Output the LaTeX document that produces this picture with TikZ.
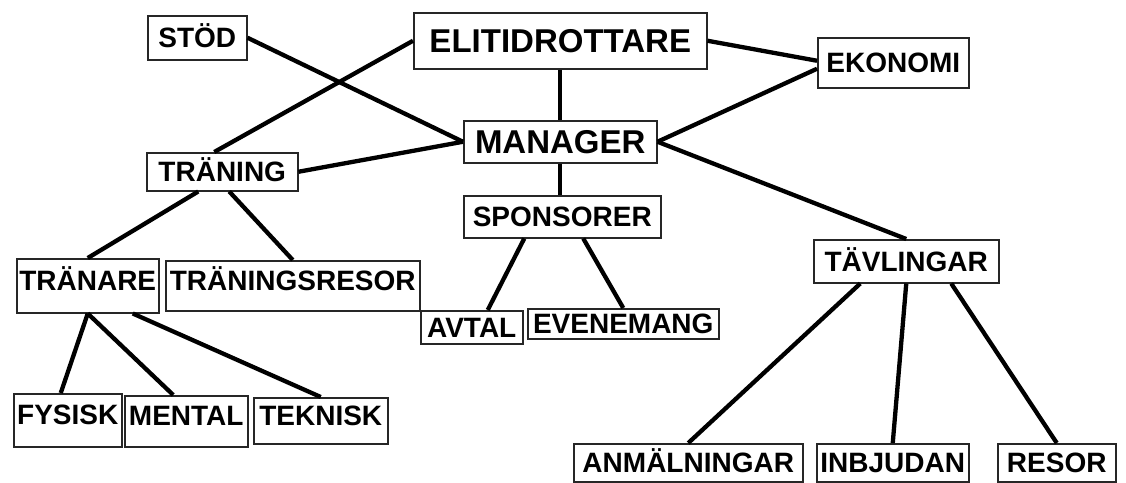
\documentclass[tikz,border=0pt]{standalone}
\usepackage{fontspec}
\setmainfont{Liberation Sans}
\usepackage{tikz}

\begin{document}
\begin{tikzpicture}[x=1pt,y=-1pt,
  item/.style={draw=black!85,line width=1.5pt,anchor=north west,inner sep=0pt,
    font=\fontsize{28}{30}\selectfont\bfseries,text height=20pt,text depth=0pt},
  big/.style={font=\fontsize{33}{36}\selectfont\bfseries,text height=24pt},
  low/.style={text depth=11pt},
  conn/.style={line width=4.3pt}]
\useasboundingbox (0,0) rectangle (1126,482);
% top row
\node[item,minimum width=99pt,minimum height=44pt] (stod) at (147,15) {STÖD};
\node[item,big,minimum width=293pt,minimum height=56pt] (elit) at (413,12) {ELITIDROTTARE};
\node[item,minimum width=151pt,minimum height=50pt] (ekonomi) at (817,37) {EKONOMI};
\node[item,big,minimum width=193pt,minimum height=42pt] (manager) at (463,120) {MANAGER};
% middle
\node[item,minimum width=151pt,minimum height=38pt] (traning) at (146,152) {TRÄNING};
\node[item,minimum width=197pt,minimum height=42pt] (sponsorer) at (463,195) {SPONSORER};
\node[item,minimum width=185pt,minimum height=43pt] (tavlingar) at (813,239) {TÄVLINGAR};
\node[item,low,minimum width=142pt,minimum height=54pt] (tranare) at (16,258) {TRÄNARE};
\node[item,low,minimum width=254pt,minimum height=50pt] (traningsresor) at (165,260) {TRÄNINGSRESOR};
\node[item,minimum width=102pt,minimum height=33pt] (avtal) at (420,310) {AVTAL};
\node[item,minimum width=191pt,minimum height=30pt] (evenemang) at (527,308) {EVENEMANG};
% bottom row
\node[item,low,minimum width=108pt,minimum height=53pt] (fysisk) at (13,393) {FYSISK};
\node[item,low,minimum width=123pt,minimum height=51pt] (mental) at (124,395) {MENTAL};
\node[item,low,minimum width=134pt,minimum height=46pt] (teknisk) at (253,397) {TEKNISK};
\node[item,minimum width=229pt,minimum height=38pt] (anmalningar) at (573,443) {ANMÄLNINGAR};
\node[item,minimum width=152pt,minimum height=38pt] (inbjudan) at (816,443) {INBJUDAN};
\node[item,minimum width=118pt,minimum height=38pt] (resor) at (997,443) {RESOR};

\path[conn]
  (stod.east) edge (manager.west)
  (elit.west) edge ([xshift=-8pt]traning.north)
  (traning.east) edge (manager.west)
  (elit.south) edge (manager.north)
  (elit.east) edge ([yshift=2pt]ekonomi.west)
  ([yshift=-6pt]ekonomi.west) edge (manager.east)
  (manager.east) edge (tavlingar.north)
  (manager.south) edge (manager.south |- sponsorer.north);
\path[conn]
  ([xshift=-38pt]sponsorer.south) edge ([xshift=16pt]avtal.north)
  ([xshift=21pt]sponsorer.south) edge (evenemang.north)
  ([xshift=-24pt]traning.south) edge (tranare.north)
  ([xshift=7pt]traning.south) edge (traningsresor.north)
  (tranare.south) edge ([xshift=-7pt]fysisk.north)
  (tranare.south) edge ([xshift=-13pt]mental.north)
  ([xshift=45pt]tranare.south) edge (teknisk.north)
  ([xshift=-46pt]tavlingar.south) edge (anmalningar.north)
  (tavlingar.south) edge (inbjudan.north)
  ([xshift=45pt]tavlingar.south) edge (resor.north);
\end{tikzpicture}
\end{document}
